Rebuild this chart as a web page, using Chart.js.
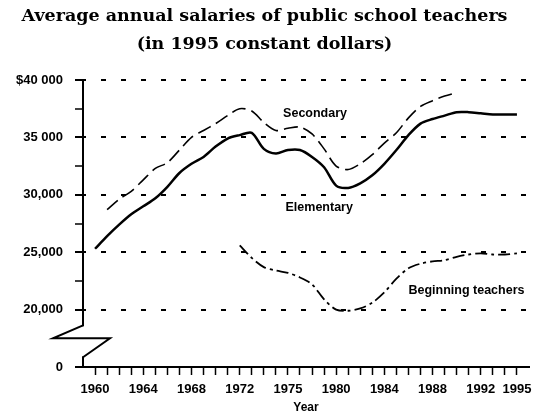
<!DOCTYPE html>
<html>
<head>
<meta charset="utf-8">
<title>Average annual salaries of public school teachers</title>
<script src="https://cdn.jsdelivr.net/npm/chart.js@4.4.0/dist/chart.umd.min.js"></script>
<style>
  html, body { margin: 0; padding: 0; background: #fff; }
  #wrap { width: 537px; height: 416px; position: relative; }
</style>
</head>
<body>
<div id="wrap"><canvas id="myChart"></canvas></div>
<script>
      // years on the x axis
      const years = [
        1960, 1961, 1962, 1963, 1964, 1965, 1966, 1967, 1968, 1969,
        1970, 1971, 1972, 1973, 1974, 1975, 1976, 1977, 1978, 1979,
        1980, 1981, 1982, 1983, 1984, 1985, 1986, 1987, 1988, 1989,
        1990, 1991, 1992, 1993, 1994, 1995
      ];

      const elementary = [
        25300, 26400, 27400, 28300, 29000, 29700, 30700, 31900, 32700, 33300,
        34200, 34900, 35200, 35400, 34000, 33600, 33900, 33900, 33300, 32400,
        30800, 30600, 31000, 31700, 32700, 33900, 35200, 36200, 36600, 36900,
        37200, 37200, 37100, 37000, 37000, 37000
      ];

      const secondary = [
        null, 28700, 29600, 30300, 31300, 32300, 32800, 33900, 35000, 35600,
        36200, 36900, 37500, 37300, 36300, 35600, 35800, 35900, 35300, 34000,
        32500, 32200, 32700, 33500, 34500, 35400, 36700, 37700, 38200, 38600,
        38900, null, null, null, null, null
      ];

      const beginning = [
        null, null, null, null, null, null, null, null, null, null,
        null, null, 25600, 24500, 23700, 23400, 23200, 22800, 22200, 20900,
        20000, 19900, 20100, 20600, 21500, 22700, 23600, 24000, 24200, 24300,
        24600, 24800, 24900, 24800, 24800, 24900
      ];

      // tick labels
      const xLabels = {1960: '1960', 1964: '1964', 1968: '1968', 1972: '1972', 1976: '1975',
                       1980: '1980', 1984: '1984', 1988: '1988', 1992: '1992', 1995: '1995'};
      const yLabels = {40000: '$40 000', 35000: '35 000', 30000: '30,000',
                       25000: '25,000', 20000: '20,000', 15000: '0'};
      const gridValues = [20000, 25000, 30000, 35000, 40000];

      // line labels written on the plot
      const seriesNotes = [
        {text: 'Secondary', x: 1975.6, y: 37100},
        {text: 'Elementary', x: 1975.8, y: 28900},
        {text: 'Beginning teachers', x: 1986.0, y: 21700}
      ];

      const toPoints = (vals) => years.map((yr, i) => ({x: yr, y: vals[i]}));

      const data = {
        datasets: [{
          label: 'Elementary',
          data: toPoints(elementary),
          borderColor: '#000',
          borderWidth: 2.5,
          tension: 0.3
        }, {
          label: 'Secondary',
          data: toPoints(secondary),
          borderColor: '#000',
          borderWidth: 1.6,
          borderDash: [14, 6],
          tension: 0.3
        }, {
          label: 'Beginning teachers',
          data: toPoints(beginning),
          borderColor: '#000',
          borderWidth: 1.8,
          borderDash: [12, 4, 3, 4],
          tension: 0.3
        }]
      };

      // text on the lines + the zigzag break on the y axis
      const plugin = {
        id: 'notes_and_break',
        afterDraw: (chart) => {
          const ctx = chart.ctx;
          const xs = chart.scales.x, ys = chart.scales.y;
          ctx.save();
          ctx.fillStyle = '#000';
          ctx.font = 'bold 12.5px "Liberation Sans", Arial, sans-serif';
          ctx.textAlign = 'left';
          ctx.textBaseline = 'middle';
          seriesNotes.forEach(n => {
            ctx.fillText(n.text, xs.getPixelForValue(n.x), ys.getPixelForValue(n.y));
          });

          const ax = chart.chartArea.left;
          const by = ys.getPixelForValue(17500);
          ctx.fillStyle = '#fff';
          ctx.fillRect(ax - 3, by - 12, 6, 30);
          ctx.strokeStyle = '#000';
          ctx.lineWidth = 2;
          ctx.beginPath();
          ctx.moveTo(ax, by - 13);
          ctx.lineTo(ax - 30, by);
          ctx.lineTo(ax + 27, by);
          ctx.lineTo(ax, by + 19);
          ctx.stroke();
          ctx.restore();
        }
      };

      const tickFont = {family: '"Liberation Sans", Arial, sans-serif', size: 13, weight: 'bold'};

      const config = {
        type: 'line',
        data: data,
        options: {
          responsive: true,
          maintainAspectRatio: false,
          animation: false,
          layout: { padding: { left: 0, right: 8, top: 0, bottom: 0 } },
          elements: { point: { radius: 0 } },
          plugins: {
            legend: { display: false },
            tooltip: { enabled: false },
            title: {
              display: true,
              text: ['Average annual salaries of public school teachers', '(in 1995 constant dollars)'],
              color: '#000',
              font: { family: '"DejaVu Serif", serif', size: 17.5, weight: 'bold', lineHeight: '28px' },
              padding: { top: 2, bottom: 22 }
            }
          },
          scales: {
            x: {
              type: 'linear',
              min: 1959,
              max: 1996,
              afterFit: (scale) => { scale.height = 49; },
              border: { display: true, color: '#000', width: 2 },
              grid: {
                drawOnChartArea: false,
                tickLength: 8,
                tickWidth: 1.5,
                tickColor: (c) => (c.tick && (c.tick.value < 1960 || c.tick.value > 1995)) ? 'rgba(0,0,0,0)' : '#000'
              },
              ticks: {
                stepSize: 1,
                autoSkip: false,
                maxRotation: 0,
                padding: 7,
                color: '#000',
                font: tickFont,
                callback: (v) => xLabels[v] || ''
              },
              title: {
                display: true,
                text: 'Year',
                color: '#000',
                font: { family: '"Liberation Sans", Arial, sans-serif', size: 12, weight: 'bold' },
                padding: { top: 0, bottom: 1 }
              }
            },
            y: {
              min: 15000,
              max: 40000,
              afterFit: (scale) => { scale.width = 83; },
              border: { display: true, color: '#000', width: 2, dash: [5, 15], dashOffset: 3 },
              grid: {
                lineWidth: 2,
                color: (c) => (c.tick && gridValues.includes(c.tick.value)) ? '#000' : 'rgba(0,0,0,0)',
                tickLength: 8,
                tickWidth: (c) => (c.tick && c.tick.value % 5000 === 0) ? 2 : 1.5,
                tickColor: (c) => (c.tick && c.tick.value === 17500) ? 'rgba(0,0,0,0)' : '#000'
              },
              ticks: {
                stepSize: 2500,
                autoSkip: false,
                padding: 12,
                color: '#000',
                font: tickFont,
                callback: (v) => yLabels[v] || ''
              }
            }
          }
        },
        plugins: [plugin]
      };

      // Render block
      const myChart = new Chart(
        document.getElementById('myChart'),
        config
      );
</script>
</body>
</html>
